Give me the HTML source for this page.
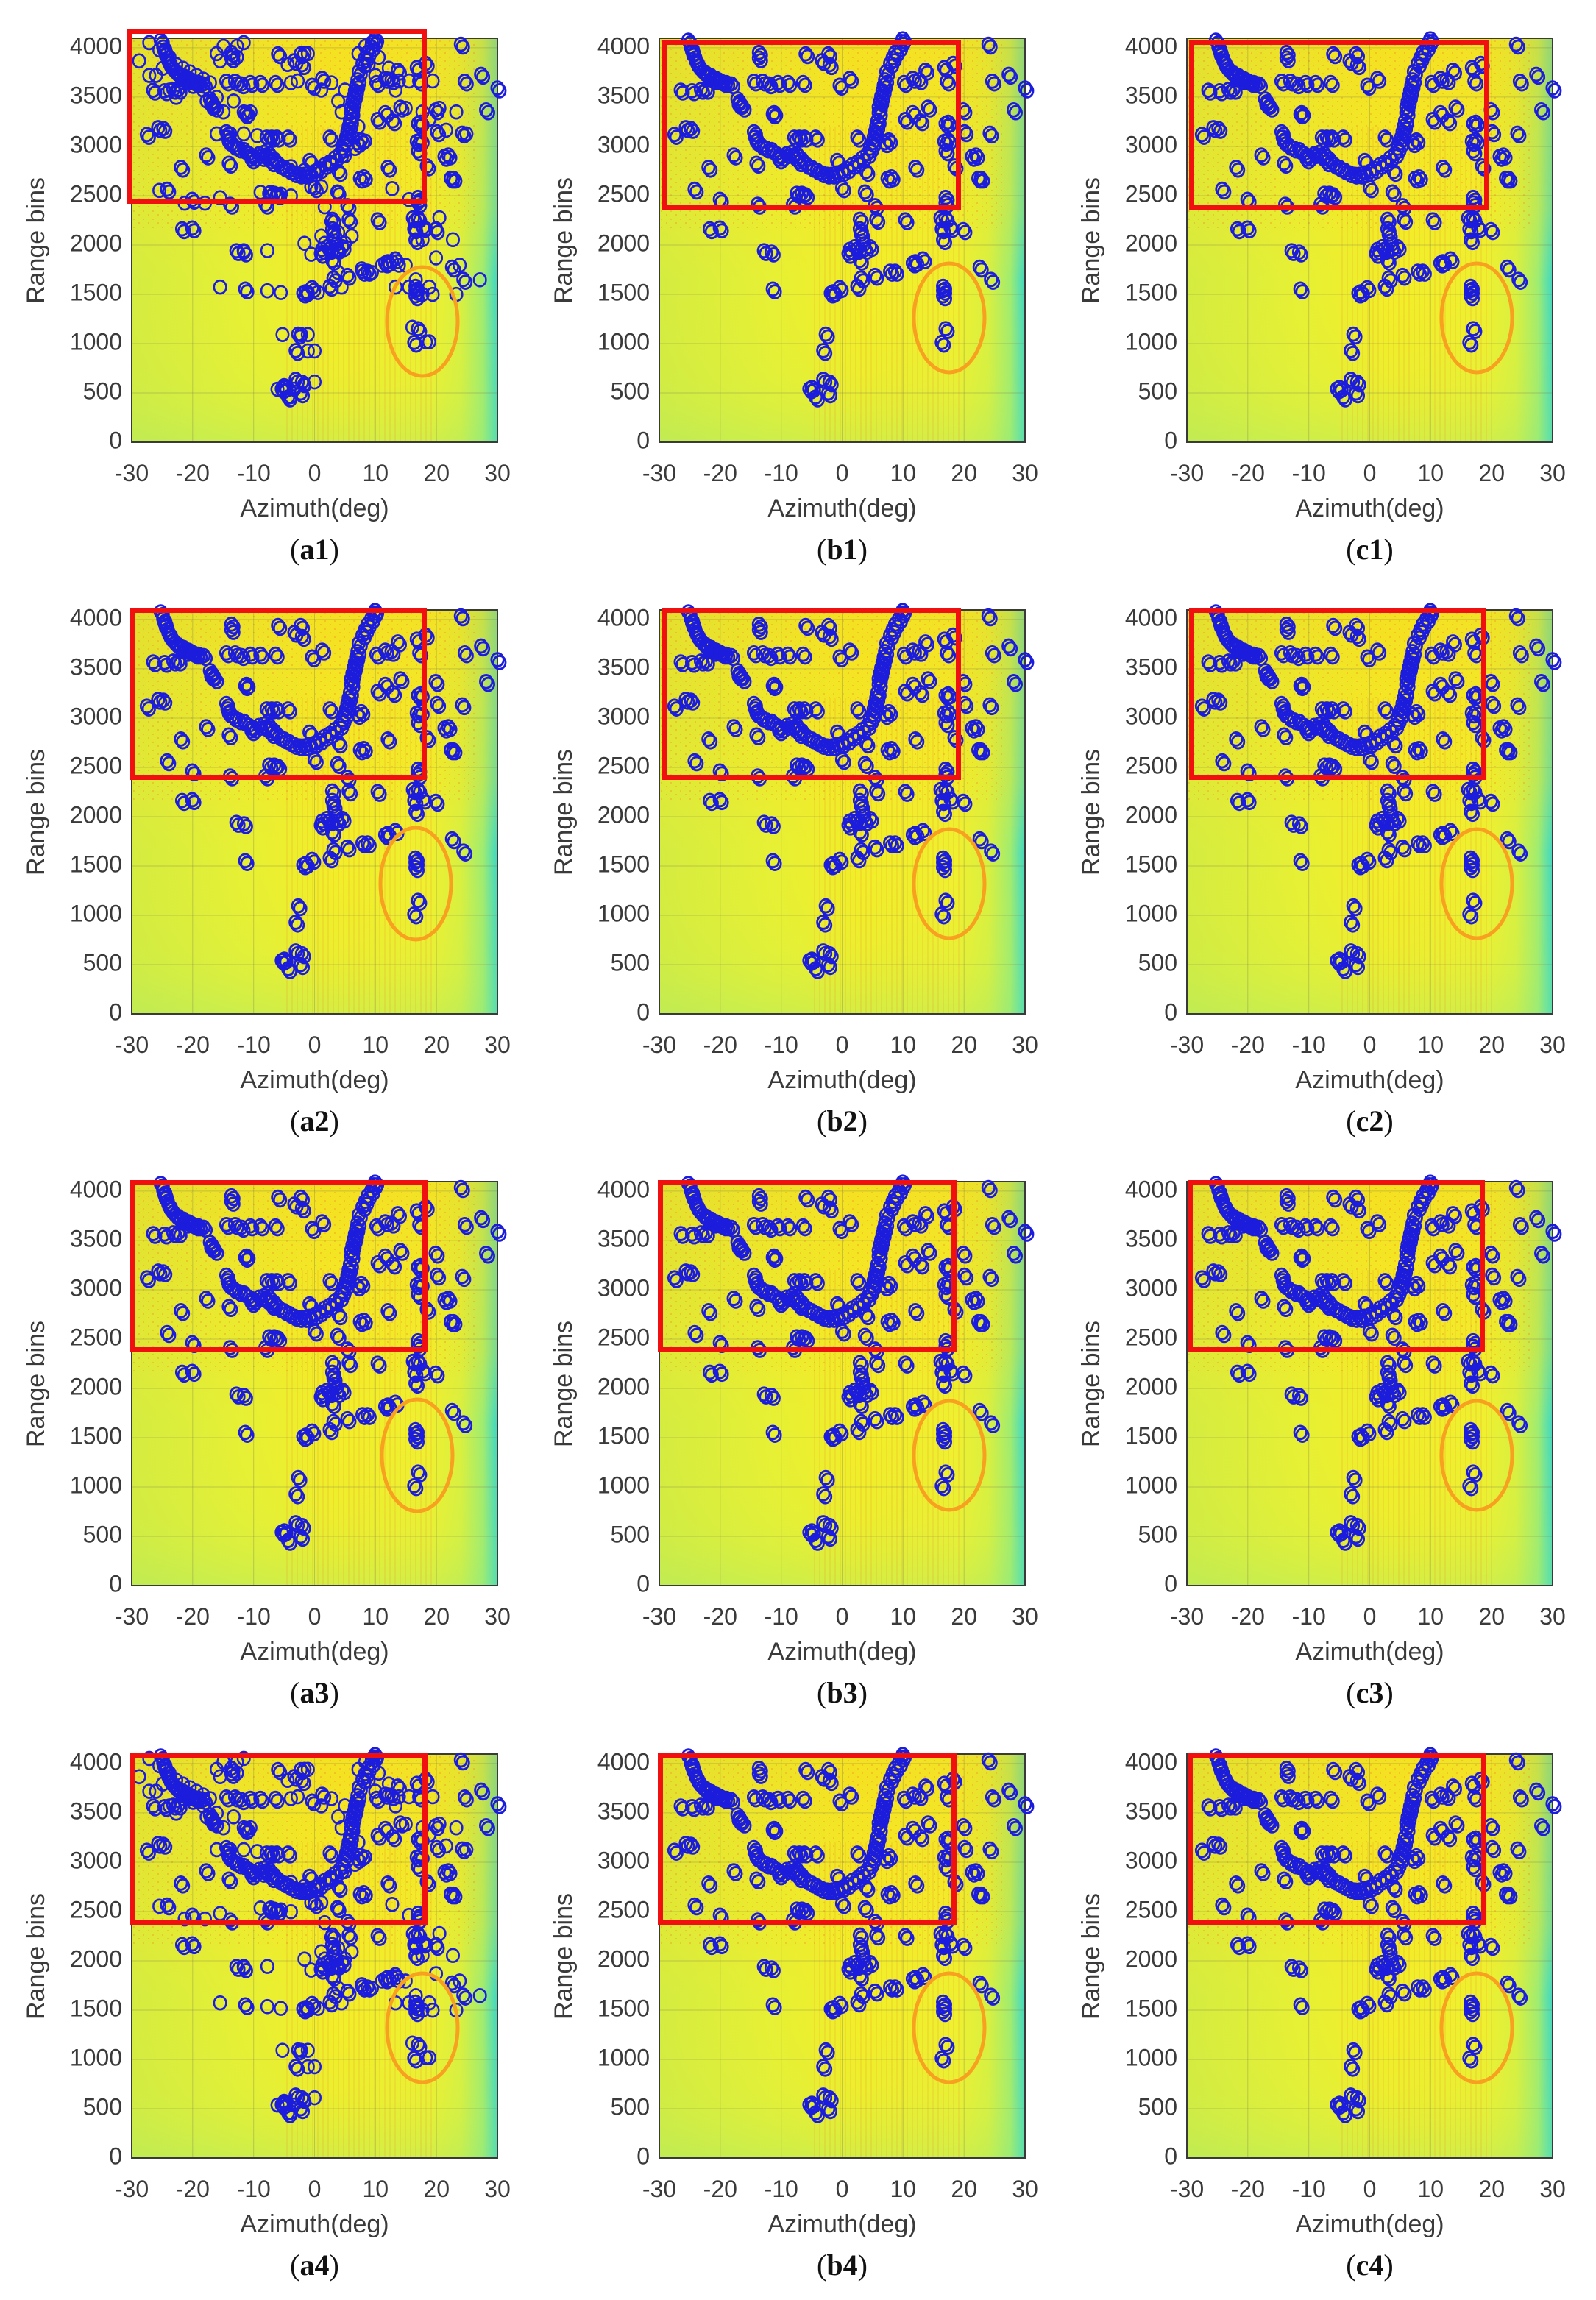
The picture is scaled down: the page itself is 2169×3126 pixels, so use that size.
<!DOCTYPE html>
<html><head><meta charset="utf-8"><style>
html,body{margin:0;padding:0;background:#fff;}
svg{display:block;}
.t{font-family:"Liberation Sans",sans-serif;font-size:32px;fill:#3a3a3a;}
.yl{font-family:"Liberation Sans",sans-serif;font-size:34px;fill:#3a3a3a;}
.cap{font-family:"Liberation Serif",serif;font-size:40px;fill:#111;}
</style></head><body>
<svg width="2169" height="3126" viewBox="0 0 2169 3126" xmlns="http://www.w3.org/2000/svg">
<defs>
<linearGradient id="gh" x1="0" y1="0" x2="1" y2="0">
<stop offset="0" stop-color="#d4ec40"/><stop offset="0.3" stop-color="#e6f034"/>
<stop offset="0.55" stop-color="#f2ee28"/><stop offset="0.82" stop-color="#eef030"/>
<stop offset="0.9" stop-color="#d8f040"/><stop offset="0.96" stop-color="#a0ec70"/>
<stop offset="0.985" stop-color="#60e0a8"/><stop offset="1" stop-color="#40d8c0"/></linearGradient>
<linearGradient id="gv" x1="0" y1="0" x2="0" y2="1">
<stop offset="0" stop-color="#f8d018" stop-opacity="0.45"/><stop offset="0.42" stop-color="#f8e020" stop-opacity="0.3"/>
<stop offset="0.6" stop-color="#f0e830" stop-opacity="0"/><stop offset="0.85" stop-color="#b8ee60" stop-opacity="0.12"/>
<stop offset="1" stop-color="#90ea80" stop-opacity="0.3"/></linearGradient>
<pattern id="str" width="7" height="20" patternUnits="userSpaceOnUse"><rect width="2" height="20" fill="#e85a20" opacity="0.3"/></pattern>
<pattern id="spk" width="13" height="11" patternUnits="userSpaceOnUse"><rect x="2" y="3" width="2" height="2" fill="#f08020" opacity="0.5"/><rect x="9" y="8" width="2" height="2" fill="#f06020" opacity="0.4"/></pattern>
<g id="bg">
<rect x="0" y="0" width="497" height="549" fill="url(#gh)"/>
<rect x="0" y="0" width="497" height="549" fill="url(#gv)"/>
<rect x="0" y="0" width="470" height="260" fill="url(#spk)" opacity="0.6"/>
<rect x="210" y="120" width="200" height="429" fill="url(#str)" opacity="0.35"/>
<g stroke="#6a6a50" stroke-opacity="0.3" stroke-width="1">
<line x1="82.8" y1="0" x2="82.8" y2="549"/><line x1="165.7" y1="0" x2="165.7" y2="549"/><line x1="248.5" y1="0" x2="248.5" y2="549"/><line x1="331.3" y1="0" x2="331.3" y2="549"/><line x1="414.2" y1="0" x2="414.2" y2="549"/>
<line x1="0" y1="481.990" x2="497" y2="481.990"/><line x1="0" y1="414.98" x2="497" y2="414.98"/><line x1="0" y1="347.97" x2="497" y2="347.97"/><line x1="0" y1="280.96" x2="497" y2="280.96"/><line x1="0" y1="213.95" x2="497" y2="213.95"/><line x1="0" y1="146.94" x2="497" y2="146.94"/><line x1="0" y1="79.93" x2="497" y2="79.93"/><line x1="0" y1="12.92" x2="497" y2="12.92"/>
</g>
<rect x="0" y="0" width="497" height="549" fill="none" stroke="#3a3a3a" stroke-width="2"/>
</g>
<g id="base0" fill="none" stroke="#1c1cdc" stroke-width="8">
<circle r="24" cx="160" cy="55"/><circle r="24" cx="170" cy="80"/><circle r="24" cx="180" cy="110"/><circle r="24" cx="195" cy="140"/><circle r="24" cx="210" cy="160"/><circle r="24" cx="230" cy="175"/><circle r="24" cx="250" cy="185"/><circle r="24" cx="270" cy="195"/><circle r="24" cx="290" cy="205"/><circle r="24" cx="310" cy="210"/><circle r="24" cx="330" cy="215"/><circle r="24" cx="200" cy="150"/><circle r="24" cx="220" cy="170"/><circle r="24" cx="240" cy="190"/><circle r="24" cx="260" cy="200"/><circle r="24" cx="280" cy="200"/><circle r="24" cx="300" cy="210"/><circle r="24" cx="190" cy="130"/><circle r="24" cx="175" cy="95"/><circle r="24" cx="230" cy="235"/><circle r="24" cx="210" cy="235"/><circle r="24" cx="175" cy="240"/><circle r="24" cx="130" cy="238"/><circle r="24" cx="355" cy="270"/><circle r="24" cx="365" cy="285"/><circle r="24" cx="375" cy="300"/><circle r="24" cx="360" cy="290"/>
<circle r="24" cx="420" cy="390"/><circle r="24" cx="425" cy="410"/><circle r="24" cx="430" cy="425"/><circle r="24" cx="450" cy="440"/><circle r="24" cx="470" cy="450"/><circle r="24" cx="490" cy="455"/><circle r="24" cx="510" cy="470"/><circle r="24" cx="530" cy="480"/><circle r="24" cx="550" cy="470"/><circle r="24" cx="570" cy="465"/><circle r="24" cx="590" cy="470"/><circle r="24" cx="610" cy="490"/><circle r="24" cx="630" cy="510"/><circle r="24" cx="650" cy="520"/><circle r="24" cx="670" cy="530"/><circle r="24" cx="690" cy="540"/><circle r="24" cx="710" cy="545"/><circle r="24" cx="730" cy="545"/><circle r="24" cx="750" cy="540"/><circle r="24" cx="770" cy="535"/><circle r="24" cx="790" cy="525"/><circle r="24" cx="810" cy="510"/><circle r="24" cx="830" cy="500"/><circle r="24" cx="850" cy="485"/><circle r="24" cx="870" cy="470"/><circle r="24" cx="880" cy="450"/><circle r="24" cx="890" cy="430"/><circle r="24" cx="895" cy="410"/><circle r="24" cx="900" cy="390"/><circle r="24" cx="905" cy="370"/><circle r="24" cx="910" cy="350"/><circle r="24" cx="915" cy="320"/><circle r="24" cx="915" cy="300"/><circle r="24" cx="920" cy="280"/><circle r="24" cx="925" cy="260"/><circle r="24" cx="930" cy="240"/><circle r="24" cx="935" cy="220"/><circle r="24" cx="940" cy="200"/><circle r="24" cx="945" cy="170"/><circle r="24" cx="960" cy="140"/><circle r="24" cx="970" cy="120"/><circle r="24" cx="980" cy="100"/><circle r="24" cx="995" cy="80"/><circle r="24" cx="1005" cy="60"/><circle r="24" cx="1010" cy="50"/><circle r="24" cx="520" cy="490"/><circle r="24" cx="580" cy="480"/><circle r="24" cx="600" cy="500"/>
<circle r="24" cx="440" cy="120"/><circle r="24" cx="440" cy="100"/><circle r="24" cx="420" cy="205"/><circle r="24" cx="455" cy="205"/><circle r="24" cx="480" cy="215"/><circle r="24" cx="515" cy="210"/><circle r="24" cx="555" cy="210"/><circle r="24" cx="615" cy="210"/><circle r="24" cx="495" cy="325"/><circle r="24" cx="500" cy="320"/><circle r="24" cx="105" cy="400"/><circle r="24" cx="150" cy="375"/><circle r="24" cx="170" cy="378"/><circle r="24" cx="240" cy="520"/><circle r="24" cx="340" cy="475"/><circle r="24" cx="430" cy="505"/><circle r="24" cx="185" cy="600"/><circle r="24" cx="285" cy="637"/><circle r="24" cx="435" cy="655"/><circle r="24" cx="575" cy="655"/><circle r="24" cx="590" cy="615"/><circle r="24" cx="610" cy="615"/><circle r="24" cx="625" cy="620"/><circle r="24" cx="580" cy="410"/><circle r="24" cx="600" cy="410"/><circle r="24" cx="620" cy="410"/><circle r="24" cx="665" cy="410"/><circle r="24" cx="625" cy="105"/><circle r="24" cx="715" cy="105"/><circle r="24" cx="690" cy="130"/><circle r="24" cx="720" cy="145"/><circle r="24" cx="760" cy="220"/><circle r="24" cx="800" cy="195"/><circle r="24" cx="750" cy="495"/><circle r="24" cx="830" cy="410"/><circle r="24" cx="955" cy="420"/><circle r="24" cx="940" cy="430"/><circle r="24" cx="865" cy="535"/><circle r="24" cx="950" cy="560"/><circle r="24" cx="965" cy="555"/><circle r="24" cx="770" cy="595"/><circle r="24" cx="860" cy="610"/><circle r="24" cx="900" cy="660"/><circle r="24" cx="1060" cy="520"/><circle r="24" cx="1015" cy="210"/><circle r="24" cx="1050" cy="195"/><circle r="24" cx="1075" cy="200"/><circle r="24" cx="1100" cy="165"/><circle r="24" cx="1020" cy="345"/><circle r="24" cx="1050" cy="320"/><circle r="24" cx="1080" cy="350"/><circle r="24" cx="1110" cy="300"/><circle r="24" cx="1175" cy="155"/><circle r="24" cx="1185" cy="205"/><circle r="24" cx="1210" cy="140"/><circle r="24" cx="1180" cy="360"/><circle r="24" cx="1190" cy="355"/><circle r="24" cx="1175" cy="425"/><circle r="24" cx="1190" cy="420"/><circle r="24" cx="1180" cy="460"/><circle r="24" cx="1215" cy="515"/><circle r="24" cx="1250" cy="310"/><circle r="24" cx="1255" cy="390"/><circle r="24" cx="1285" cy="480"/><circle r="24" cx="1300" cy="475"/><circle r="24" cx="1310" cy="560"/><circle r="24" cx="1320" cy="560"/><circle r="24" cx="1350" cy="70"/><circle r="24" cx="1365" cy="205"/><circle r="24" cx="1430" cy="180"/><circle r="24" cx="1450" cy="310"/><circle r="24" cx="1355" cy="395"/><circle r="24" cx="1495" cy="230"/>
<circle r="24" cx="1180" cy="630"/><circle r="24" cx="1180" cy="650"/><circle r="24" cx="1160" cy="705"/><circle r="24" cx="1180" cy="705"/><circle r="24" cx="1200" cy="740"/><circle r="24" cx="1250" cy="748"/><circle r="24" cx="1165" cy="745"/><circle r="24" cx="1170" cy="785"/><circle r="24" cx="1020" cy="712"/><circle r="24" cx="905" cy="710"/><circle r="24" cx="840" cy="710"/><circle r="24" cx="840" cy="745"/><circle r="24" cx="845" cy="765"/><circle r="24" cx="850" cy="790"/><circle r="24" cx="800" cy="820"/><circle r="24" cx="820" cy="810"/><circle r="24" cx="860" cy="820"/><circle r="24" cx="880" cy="810"/><circle r="24" cx="840" cy="860"/><circle r="24" cx="830" cy="820"/><circle r="24" cx="795" cy="835"/><circle r="24" cx="900" cy="915"/><circle r="24" cx="960" cy="900"/><circle r="24" cx="980" cy="900"/><circle r="24" cx="1050" cy="870"/><circle r="24" cx="1060" cy="865"/><circle r="24" cx="1090" cy="855"/><circle r="24" cx="1315" cy="885"/><circle r="24" cx="1360" cy="930"/><circle r="24" cx="460" cy="825"/><circle r="24" cx="490" cy="830"/><circle r="24" cx="245" cy="745"/><circle r="24" cx="285" cy="742"/><circle r="24" cx="495" cy="965"/><circle r="24" cx="725" cy="980"/><circle r="24" cx="735" cy="975"/><circle r="24" cx="760" cy="960"/><circle r="24" cx="830" cy="955"/><circle r="24" cx="845" cy="925"/>
<circle r="24" cx="1170" cy="955"/><circle r="24" cx="1170" cy="970"/><circle r="24" cx="1170" cy="990"/><circle r="24" cx="1180" cy="1110"/><circle r="24" cx="1165" cy="1160"/>
<circle r="24" cx="705" cy="1130"/><circle r="24" cx="695" cy="1190"/><circle r="24" cx="695" cy="1295"/><circle r="24" cx="720" cy="1305"/><circle r="24" cx="715" cy="1345"/><circle r="24" cx="650" cy="1325"/><circle r="24" cx="640" cy="1330"/><circle r="24" cx="665" cy="1360"/>
</g>
<g id="base" transform="scale(0.3428,0.3717) translate(-45,-48)">
<use href="#base0"/><use href="#base0" transform="translate(8,10)"/>
</g>
<g id="extra" transform="scale(0.4585,0.4959) translate(-388,-98)" fill="none" stroke="#1c1cdc" stroke-width="5.5">
<circle r="18" cx="410" cy="160"/><circle r="18" cx="440" cy="110"/><circle r="18" cx="470" cy="130"/><circle r="18" cx="500" cy="150"/><circle r="18" cx="520" cy="170"/><circle r="18" cx="540" cy="180"/><circle r="18" cx="560" cy="190"/><circle r="18" cx="580" cy="200"/><circle r="18" cx="600" cy="210"/><circle r="18" cx="620" cy="220"/><circle r="18" cx="460" cy="200"/><circle r="18" cx="480" cy="180"/><circle r="18" cx="540" cy="220"/><circle r="18" cx="570" cy="230"/><circle r="18" cx="600" cy="240"/><circle r="18" cx="640" cy="260"/><circle r="18" cx="610" cy="270"/><circle r="18" cx="630" cy="290"/><circle r="18" cx="660" cy="300"/><circle r="18" cx="690" cy="270"/><circle r="18" cx="720" cy="300"/><circle r="18" cx="740" cy="300"/><circle r="18" cx="500" cy="240"/><circle r="18" cx="520" cy="260"/><circle r="18" cx="440" cy="200"/><circle r="18" cx="660" cy="120"/><circle r="18" cx="650" cy="160"/><circle r="18" cx="700" cy="120"/><circle r="18" cx="720" cy="110"/><circle r="18" cx="640" cy="140"/><circle r="18" cx="700" cy="150"/>
<circle r="18" cx="1060" cy="140"/><circle r="18" cx="1080" cy="120"/><circle r="18" cx="1100" cy="110"/><circle r="18" cx="1120" cy="150"/><circle r="18" cx="1090" cy="170"/><circle r="18" cx="1110" cy="200"/><circle r="18" cx="1150" cy="210"/><circle r="18" cx="1180" cy="215"/><circle r="18" cx="1210" cy="215"/><circle r="18" cx="1240" cy="215"/><circle r="18" cx="1280" cy="215"/>
<circle r="18" cx="640" cy="360"/><circle r="18" cx="680" cy="360"/><circle r="18" cx="720" cy="360"/><circle r="18" cx="760" cy="365"/><circle r="18" cx="800" cy="370"/><circle r="18" cx="700" cy="400"/><circle r="18" cx="740" cy="420"/><circle r="18" cx="780" cy="430"/><circle r="18" cx="820" cy="440"/><circle r="18" cx="860" cy="450"/><circle r="18" cx="900" cy="460"/><circle r="18" cx="940" cy="460"/><circle r="18" cx="980" cy="440"/><circle r="18" cx="1020" cy="420"/><circle r="18" cx="1050" cy="400"/><circle r="18" cx="1080" cy="380"/><circle r="18" cx="1060" cy="340"/><circle r="18" cx="1040" cy="320"/><circle r="18" cx="1010" cy="300"/><circle r="18" cx="1000" cy="270"/><circle r="18" cx="950" cy="240"/><circle r="18" cx="980" cy="220"/><circle r="18" cx="1020" cy="240"/><circle r="18" cx="860" cy="220"/><circle r="18" cx="880" cy="215"/><circle r="18" cx="900" cy="140"/><circle r="18" cx="910" cy="140"/><circle r="18" cx="850" cy="170"/><circle r="18" cx="1150" cy="180"/><circle r="18" cx="1170" cy="240"/><circle r="18" cx="1200" cy="290"/><circle r="18" cx="1250" cy="300"/><circle r="18" cx="1270" cy="320"/><circle r="18" cx="1300" cy="290"/><circle r="18" cx="1350" cy="300"/><circle r="18" cx="1320" cy="350"/><circle r="18" cx="1380" cy="360"/>
<circle r="18" cx="770" cy="520"/><circle r="18" cx="800" cy="520"/><circle r="18" cx="830" cy="525"/><circle r="18" cx="860" cy="530"/><circle r="18" cx="920" cy="505"/><circle r="18" cx="950" cy="505"/><circle r="18" cx="1000" cy="520"/><circle r="18" cx="1160" cy="510"/><circle r="18" cx="1210" cy="540"/><circle r="18" cx="1240" cy="545"/><circle r="18" cx="470" cy="515"/><circle r="18" cx="545" cy="550"/><circle r="18" cx="605" cy="550"/><circle r="18" cx="650" cy="535"/>
<circle r="18" cx="960" cy="560"/><circle r="18" cx="980" cy="600"/><circle r="18" cx="1000" cy="630"/><circle r="18" cx="950" cy="640"/><circle r="18" cx="960" cy="660"/><circle r="18" cx="980" cy="670"/><circle r="18" cx="1000" cy="680"/><circle r="18" cx="1020" cy="660"/><circle r="18" cx="1040" cy="640"/><circle r="18" cx="900" cy="660"/><circle r="18" cx="920" cy="690"/><circle r="18" cx="1000" cy="740"/><circle r="18" cx="1070" cy="730"/><circle r="18" cx="1100" cy="740"/><circle r="18" cx="1130" cy="720"/><circle r="18" cx="1160" cy="710"/><circle r="18" cx="1180" cy="720"/><circle r="18" cx="1200" cy="720"/><circle r="18" cx="1230" cy="620"/><circle r="18" cx="1260" cy="620"/><circle r="18" cx="1290" cy="620"/><circle r="18" cx="1250" cy="650"/><circle r="18" cx="1300" cy="590"/><circle r="18" cx="1340" cy="650"/><circle r="18" cx="1290" cy="700"/><circle r="18" cx="1360" cy="720"/><circle r="18" cx="1230" cy="760"/><circle r="18" cx="1270" cy="780"/><circle r="18" cx="1250" cy="800"/><circle r="18" cx="1280" cy="800"/><circle r="18" cx="720" cy="680"/><circle r="18" cx="790" cy="680"/><circle r="18" cx="650" cy="780"/><circle r="18" cx="790" cy="790"/><circle r="18" cx="830" cy="795"/><circle r="18" cx="910" cy="795"/><circle r="18" cx="940" cy="795"/><circle r="18" cx="1010" cy="780"/><circle r="18" cx="1170" cy="780"/><circle r="18" cx="1210" cy="780"/><circle r="18" cx="1350" cy="800"/><circle r="18" cx="1420" cy="760"/><circle r="18" cx="1220" cy="890"/><circle r="18" cx="1260" cy="930"/><circle r="18" cx="1270" cy="930"/><circle r="18" cx="835" cy="910"/><circle r="18" cx="890" cy="910"/><circle r="18" cx="910" cy="910"/><circle r="18" cx="910" cy="955"/><circle r="18" cx="930" cy="955"/><circle r="18" cx="820" cy="1060"/><circle r="18" cx="840" cy="1050"/><circle r="18" cx="860" cy="1080"/><circle r="18" cx="900" cy="1050"/><circle r="18" cx="930" cy="1040"/><circle r="18" cx="870" cy="1060"/>
</g>
<g id="axes">
<use href="#bg"/>
<g class="t" text-anchor="end" dominant-baseline="middle">
<text x="-13" y="549">0</text><text x="-13" y="482">500</text><text x="-13" y="415">1000</text><text x="-13" y="348">1500</text><text x="-13" y="281">2000</text><text x="-13" y="214">2500</text><text x="-13" y="147">3000</text><text x="-13" y="80">3500</text><text x="-13" y="13">4000</text>
</g>
<g class="t" text-anchor="middle">
<text x="0" y="602">-30</text><text x="82.8" y="602">-20</text><text x="165.7" y="602">-10</text><text x="248.5" y="602">0</text><text x="331.3" y="602">10</text><text x="414.2" y="602">20</text><text x="497" y="602">30</text>
<text class="yl" x="248.5" y="650">Azimuth(deg)</text>
<text class="yl" transform="translate(-128,275) rotate(-90)" dominant-baseline="middle">Range bins</text>
</g>
</g>
</defs>

<g transform="translate(179,52)"><use href="#axes"/><use href="#base"/><use href="#extra"/>
<rect x="-2.5" y="-9.5" width="400" height="231" fill="none" stroke="#f01010" stroke-width="7"/><ellipse cx="395" cy="385" rx="48" ry="74" fill="none" stroke="#f8a020" stroke-width="5"/>
<text class="cap" x="248.5" y="708" text-anchor="middle">(<tspan font-weight="bold">a1</tspan>)</text></g>
<g transform="translate(896,52)"><use href="#axes"/><use href="#base"/>
<rect x="7.5" y="5.5" width="399" height="225" fill="none" stroke="#f01010" stroke-width="7"/><ellipse cx="394" cy="380" rx="48" ry="74" fill="none" stroke="#f8a020" stroke-width="5"/>
<text class="cap" x="248.5" y="708" text-anchor="middle">(<tspan font-weight="bold">b1</tspan>)</text></g>
<g transform="translate(1613,52)"><use href="#axes"/><use href="#base"/>
<rect x="6.5" y="5.5" width="401" height="225" fill="none" stroke="#f01010" stroke-width="7"/><ellipse cx="394" cy="380" rx="48" ry="74" fill="none" stroke="#f8a020" stroke-width="5"/>
<text class="cap" x="248.5" y="708" text-anchor="middle">(<tspan font-weight="bold">c1</tspan>)</text></g>

<g transform="translate(179,829)"><use href="#axes"/><use href="#base"/>
<rect x="0.5" y="0.5" width="397" height="227" fill="none" stroke="#f01010" stroke-width="7"/><ellipse cx="386" cy="372" rx="48" ry="76" fill="none" stroke="#f8a020" stroke-width="5"/>
<text class="cap" x="248.5" y="708" text-anchor="middle">(<tspan font-weight="bold">a2</tspan>)</text></g>
<g transform="translate(896,829)"><use href="#axes"/><use href="#base"/>
<rect x="7.5" y="0.5" width="399" height="227" fill="none" stroke="#f01010" stroke-width="7"/><ellipse cx="394" cy="372" rx="48" ry="74" fill="none" stroke="#f8a020" stroke-width="5"/>
<text class="cap" x="248.5" y="708" text-anchor="middle">(<tspan font-weight="bold">b2</tspan>)</text></g>
<g transform="translate(1613,829)"><use href="#axes"/><use href="#base"/>
<rect x="6.5" y="0.5" width="397" height="227" fill="none" stroke="#f01010" stroke-width="7"/><ellipse cx="394" cy="372" rx="48" ry="74" fill="none" stroke="#f8a020" stroke-width="5"/>
<text class="cap" x="248.5" y="708" text-anchor="middle">(<tspan font-weight="bold">c2</tspan>)</text></g>

<g transform="translate(179,1606)"><use href="#axes"/><use href="#base"/>
<rect x="1.5" y="1.5" width="397" height="227" fill="none" stroke="#f01010" stroke-width="7"/><ellipse cx="388" cy="372" rx="48" ry="76" fill="none" stroke="#f8a020" stroke-width="5"/>
<text class="cap" x="248.5" y="708" text-anchor="middle">(<tspan font-weight="bold">a3</tspan>)</text></g>
<g transform="translate(896,1606)"><use href="#axes"/><use href="#base"/>
<rect x="1.5" y="1.5" width="399" height="227" fill="none" stroke="#f01010" stroke-width="7"/><ellipse cx="394" cy="372" rx="48" ry="74" fill="none" stroke="#f8a020" stroke-width="5"/>
<text class="cap" x="248.5" y="708" text-anchor="middle">(<tspan font-weight="bold">b3</tspan>)</text></g>
<g transform="translate(1613,1606)"><use href="#axes"/><use href="#base"/>
<rect x="4.5" y="1.5" width="397" height="227" fill="none" stroke="#f01010" stroke-width="7"/><ellipse cx="394" cy="372" rx="48" ry="74" fill="none" stroke="#f8a020" stroke-width="5"/>
<text class="cap" x="248.5" y="708" text-anchor="middle">(<tspan font-weight="bold">c3</tspan>)</text></g>

<g transform="translate(179,2384)"><use href="#axes"/><use href="#base"/><use href="#extra"/>
<rect x="1.5" y="1.5" width="397" height="227" fill="none" stroke="#f01010" stroke-width="7"/><ellipse cx="395" cy="372" rx="48" ry="74" fill="none" stroke="#f8a020" stroke-width="5"/>
<text class="cap" x="248.5" y="708" text-anchor="middle">(<tspan font-weight="bold">a4</tspan>)</text></g>
<g transform="translate(896,2384)"><use href="#axes"/><use href="#base"/>
<rect x="1.5" y="1.5" width="399" height="227" fill="none" stroke="#f01010" stroke-width="7"/><ellipse cx="394" cy="372" rx="48" ry="74" fill="none" stroke="#f8a020" stroke-width="5"/>
<text class="cap" x="248.5" y="708" text-anchor="middle">(<tspan font-weight="bold">b4</tspan>)</text></g>
<g transform="translate(1613,2384)"><use href="#axes"/><use href="#base"/>
<rect x="4.5" y="1.5" width="399" height="227" fill="none" stroke="#f01010" stroke-width="7"/><ellipse cx="394" cy="372" rx="48" ry="74" fill="none" stroke="#f8a020" stroke-width="5"/>
<text class="cap" x="248.5" y="708" text-anchor="middle">(<tspan font-weight="bold">c4</tspan>)</text></g>
</svg>
</body></html>
